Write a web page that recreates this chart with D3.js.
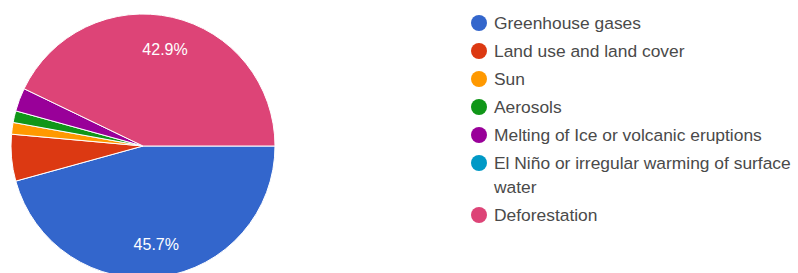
<!DOCTYPE html>
<html>
<head>
<meta charset="utf-8">
<script src="https://cdn.jsdelivr.net/npm/d3@7"></script>
<style>
  body { margin: 0; background: #fff; }
  svg { display: block; font-family: Arial, "Liberation Sans", sans-serif; }
</style>
</head>
<body>
<div id="chart"></div>
<script>
// dados (respostas, 70 no total)
const categories = ["Greenhouse gases", "Land use and land cover", "Sun", "Aerosols",
  "Melting of Ice or volcanic eruptions", "El Niño or irregular warming of surface water", "Deforestation"];
const counts = [32, 4, 1, 1, 2, 0, 30];
const colors = ["#3366cc", "#dc3912", "#ff9900", "#109618", "#990099", "#0099c6", "#dd4477"];

const width = 798, height = 273;
const cx = 143, cy = 146, radius = 132;

const svg = d3.select("#chart").append("svg")
    .attr("width", width)
    .attr("height", height);

const total = d3.sum(counts);
const data = categories.map((c, i) => ({ label: c, value: counts[i], color: colors[i] }));

// começa às 3 horas, sentido horário
const pie = d3.pie()
    .value(d => d.value)
    .sort(null)
    .startAngle(Math.PI / 2)
    .endAngle(Math.PI / 2 + 2 * Math.PI);

const arc = d3.arc().innerRadius(0).outerRadius(radius);
const labelArc = d3.arc().innerRadius(radius * 0.75).outerRadius(radius * 0.75);

const g = svg.append("g").attr("transform", `translate(${cx},${cy})`);

const arcs = pie(data);

g.selectAll("path")
    .data(arcs.filter(d => d.data.value > 0))
    .join("path")
    .attr("d", arc)
    .attr("fill", d => d.data.color)
    .attr("stroke", "#fff")
    .attr("stroke-width", 1);

// só mostra rótulo nas fatias grandes
g.selectAll("text")
    .data(arcs.filter(d => d.data.value / total > 0.1))
    .join("text")
    .attr("transform", d => `translate(${labelArc.centroid(d)})`)
    .attr("text-anchor", "middle")
    .attr("dominant-baseline", "central")
    .attr("fill", "#fff")
    .attr("font-size", 16)
    .text(d => (d.data.value / total * 100).toFixed(1) + "%");

// legenda
const legend = svg.append("g").attr("transform", "translate(479,0)");
const maxW = 310;
let y = 23;
data.forEach(d => {
    const row = legend.append("g");
    row.append("circle")
        .attr("cx", 0)
        .attr("cy", y)
        .attr("r", 8)
        .attr("fill", d.color);
    const text = row.append("text")
        .attr("x", 15)
        .attr("y", y)
        .attr("dominant-baseline", "central")
        .attr("fill", "#4a4a4a")
        .attr("font-size", 17.4);
    // quebra de linha manual
    const words = d.label.split(" ");
    let line = [];
    let tspan = text.append("tspan").attr("x", 15).attr("y", y);
    words.forEach(w => {
        line.push(w);
        tspan.text(line.join(" "));
        if (tspan.node().getComputedTextLength() > maxW && line.length > 1) {
            line.pop();
            tspan.text(line.join(" "));
            line = [w];
            y += 24;
            tspan = text.append("tspan").attr("x", 15).attr("y", y).text(w);
        }
    });
    y += 28;
});
</script>
</body>
</html>
